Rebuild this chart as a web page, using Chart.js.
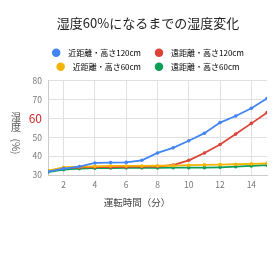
<!DOCTYPE html>
<html>
<head>
<meta charset="utf-8">
<script src="https://cdn.jsdelivr.net/npm/chart.js@4"></script>
<style>
  html, body { margin: 0; padding: 0; background: #fff; }
  #wrap { width: 280px; height: 280px; }
</style>
</head>
<body>
<div id="wrap"><canvas id="humidityChart"></canvas></div>
<script>
const minutes = [1, 2, 3, 4, 5, 6, 7, 8, 9, 10, 11, 12, 13, 14, 15];
const nearHigh = [31.8, 33.4, 34.5, 36.4, 36.6, 36.7, 37.8, 41.7, 44.4, 48.2, 52.2, 57.8, 61.3, 65.4, 70.6];
const farHigh = [32.0, 33.6, 34.0, 34.2, 34.2, 34.3, 34.4, 34.5, 35.3, 37.8, 41.7, 46.2, 51.7, 57.4, 63.1];
const nearLow = [32.3, 34.0, 34.4, 34.6, 34.8, 34.8, 34.8, 34.9, 35.0, 35.2, 35.4, 35.5, 35.7, 35.9, 36.2];
const farLow = [31.6, 32.8, 33.4, 33.6, 33.7, 33.8, 33.8, 33.8, 33.9, 33.9, 33.9, 34.1, 34.4, 34.8, 35.2];
const seriesNames = ['近距離・高さ120cm', '遠距離・高さ120cm', '近距離・高さ60cm', '遠距離・高さ60cm'];
const seriesColors = ['#4285f4', '#db4437', '#f4b400', '#0f9d58'];
const xTicks = [2, 4, 6, 8, 10, 12, 14];
const yTicks = [30, 40, 50, 60, 70, 80];

const FONT = '"Noto Sans CJK JP", "Noto Sans", sans-serif';

function series(values) {
    return minutes.map((m, i) => ({ x: m, y: values[i] }));
}

// blue on top, then yellow, red, green
const drawOrder = [0, 2, 1, 3];

// nudge legend a little to the right, like the original
const legendShift = {
    id: 'legendShift',
    afterLayout(chart) {
        chart.legend.left += 4;
        chart.legend.right += 4;
    }
};

const axisTitles = {
    id: 'axisTitles',
    afterDraw(chart) {
        const ctx = chart.ctx;
        ctx.save();
        ctx.setTransform(1, 0, 0, 1, 0, 0);
        ctx.fillStyle = '#555';
        ctx.textAlign = 'center';
        ctx.textBaseline = 'middle';
        ctx.font = '10px ' + FONT;
        ctx.fillText('湿', 16, 117);
        ctx.fillText('度', 16, 127);
        ctx.translate(16, 146.5);
        ctx.rotate(Math.PI / 2);
        ctx.fillText('(%)', 0, 0);
        ctx.restore();

        ctx.save();
        ctx.fillStyle = '#444';
        ctx.textAlign = 'center';
        ctx.textBaseline = 'middle';
        ctx.font = '9.5px ' + FONT;
        ctx.fillText('運転時間（分）', 137, 202);
        ctx.restore();
    }
};

document.addEventListener("DOMContentLoaded", () => {
    const ctx = document.getElementById('humidityChart').getContext('2d');
    const allValues = [nearHigh, farHigh, nearLow, farLow];

    new Chart(ctx, {
        type: 'line',
        data: {
            datasets: allValues.map((vals, i) => ({
                label: seriesNames[i],
                data: series(vals),
                borderColor: seriesColors[i],
                backgroundColor: seriesColors[i],
                borderWidth: 1.8,
                pointRadius: 1.8,
                pointBorderWidth: 0,
                tension: 0,
                order: drawOrder[i]
            }))
        },
        options: {
            responsive: true,
            maintainAspectRatio: false,
            animation: false,
            layout: {
                padding: { left: 29, right: 13, top: 0.8, bottom: 85 }
            },
            plugins: {
                title: {
                    display: true,
                    text: '湿度60%になるまでの湿度変化',
                    color: '#222',
                    font: { family: FONT, size: 13, weight: 'normal' },
                    padding: { top: 14, bottom: 12.4 }
                },
                legend: {
                    display: true,
                    labels: {
                        usePointStyle: true,
                        boxWidth: 9,
                        boxHeight: 6,
                        padding: 6,
                        color: '#555',
                        font: { family: FONT, size: 8 },
                        generateLabels: (chart) => chart.data.datasets.map((ds, i) => ({
                            text: '\u2002' + ds.label + '\u2003',
                            fillStyle: ds.borderColor,
                            strokeStyle: ds.borderColor,
                            lineWidth: 0,
                            pointStyle: 'circle',
                            hidden: false,
                            datasetIndex: i
                        }))
                    }
                },
                tooltip: { enabled: false }
            },
            scales: {
                x: {
                    type: 'linear',
                    min: 1,
                    max: 15,
                    afterBuildTicks: (scale) => {
                        scale.ticks = xTicks.map(v => ({ value: v }));
                    },
                    afterFit: (scale) => { scale.height = 20; },
                    grid: { color: '#e0e0e0', drawTicks: false },
                    border: { color: '#ccc' },
                    ticks: {
                        padding: 5,
                        color: '#777',
                        font: { family: FONT, size: 8.5 }
                    }
                },
                y: {
                    min: 30,
                    max: 80,
                    afterBuildTicks: (scale) => {
                        scale.ticks = yTicks.map(v => ({ value: v }));
                    },
                    afterFit: (scale) => { scale.width = 19; },
                    grid: { color: '#e0e0e0', drawTicks: false },
                    border: { color: '#ccc' },
                    ticks: {
                        padding: 6,
                        color: (c) => c.tick.value === 60 ? '#d7262b' : '#777',
                        font: (c) => c.tick && c.tick.value === 60
                            ? { family: FONT, size: 12 }
                            : { family: FONT, size: 8.5 }
                    }
                }
            }
        },
        plugins: [legendShift, axisTitles]
    });
});
</script>
</body>
</html>
